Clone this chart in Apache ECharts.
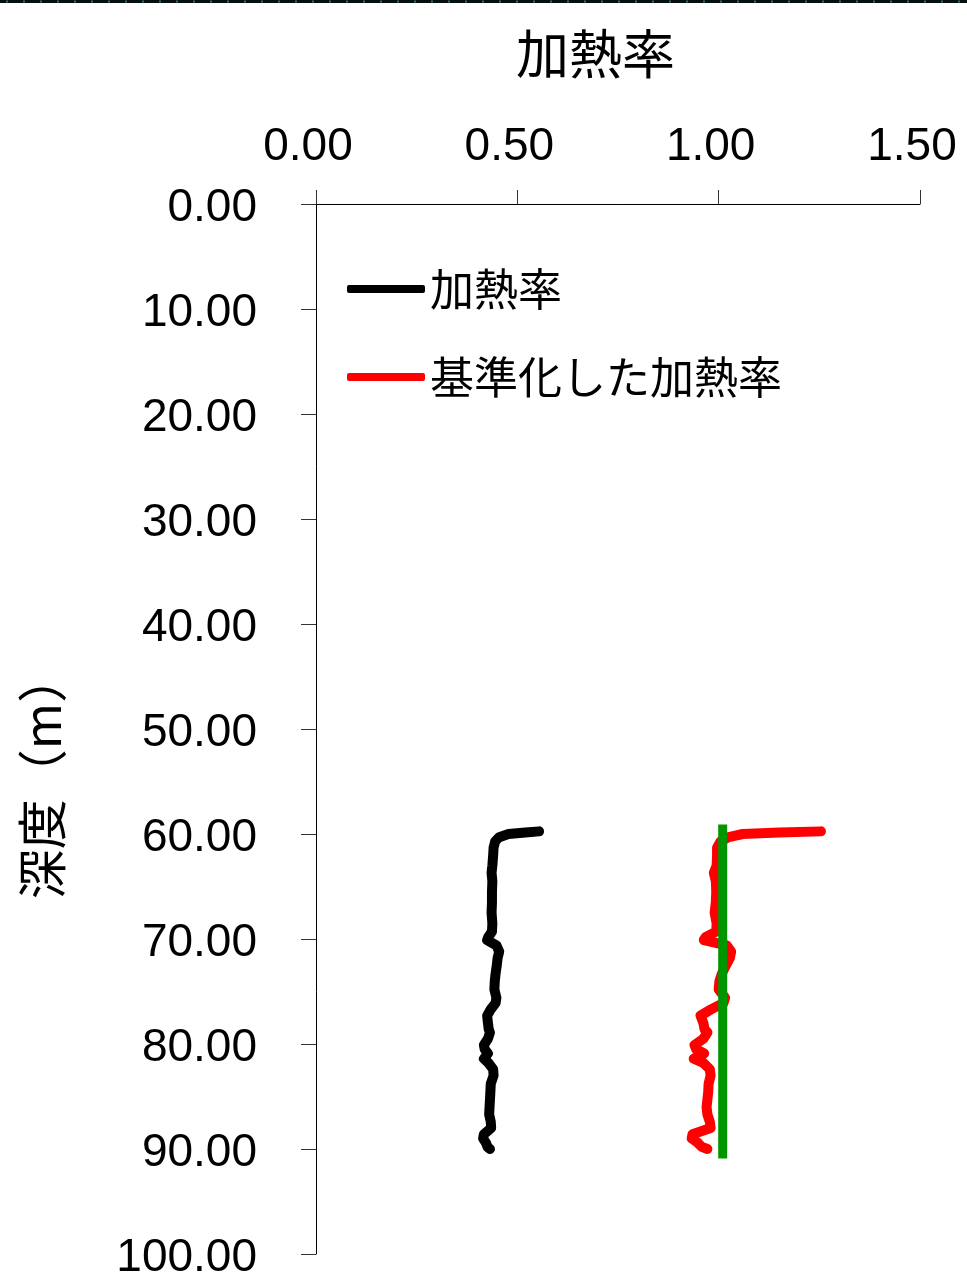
<!DOCTYPE html>
<html>
<head>
<meta charset="utf-8">
<script src="https://cdn.jsdelivr.net/npm/echarts@6/dist/echarts.min.js"></script>
<style>
  html, body { margin: 0; padding: 0; background: #ffffff; }
  #chart { width: 967px; height: 1279px; }
</style>
</head>
<body>
<div id="chart"></div>
<script>
// Borehole heating-rate profile: depth (m) against heating rate
const depth = [
  59.75, 59.85, 60.0, 60.3, 60.7, 61.3, 62.0, 63.0, 63.7, 64.5,
  65.5, 66.5, 67.5, 68.5, 69.3, 69.8, 70.1, 70.6, 71.2, 71.8,
  72.5, 73.3, 74.0, 74.8, 75.6, 76.1, 76.7, 77.3, 78.0, 78.6,
  78.9, 79.5, 80.1, 80.5, 80.9, 81.4, 81.8, 82.4, 83.0, 83.8,
  84.6, 85.3, 86.0, 86.7, 87.4, 88.0, 88.6, 89.0, 89.4, 89.8,
  90.0
];

// 加熱率
const heatRate = [
  0.554, 0.520, 0.478, 0.455, 0.445, 0.441, 0.440, 0.438, 0.436, 0.438,
  0.437, 0.437, 0.436, 0.438, 0.437, 0.428, 0.425, 0.448, 0.455, 0.451,
  0.449, 0.446, 0.444, 0.443, 0.448, 0.446, 0.434, 0.425, 0.427, 0.429,
  0.432, 0.427, 0.417, 0.419, 0.427, 0.417, 0.428, 0.440, 0.441, 0.434,
  0.433, 0.432, 0.431, 0.430, 0.434, 0.435, 0.417, 0.415, 0.422, 0.426,
  0.432
];

// 基準化した加熱率
const normalizedRate = [
  1.254, 1.150, 1.060, 1.025, 1.005, 0.996, 0.996, 0.995, 0.988, 0.993,
  0.994, 0.993, 0.990, 0.995, 0.994, 0.968, 0.963, 1.020, 1.031, 1.028,
  1.018, 1.008, 1.002, 1.000, 1.016, 1.012, 0.981, 0.955, 0.962, 0.965,
  0.972, 0.962, 0.940, 0.944, 0.964, 0.938, 0.962, 0.978, 0.980, 0.975,
  0.974, 0.972, 0.970, 0.972, 0.978, 0.980, 0.935, 0.933, 0.948, 0.958,
  0.972
];

// Vertical reference line
const referenceRate = [1.01, 1.01];
const referenceDepth = [59.1, 90.9];

const seriesNames = ['加熱率', '基準化した加熱率'];
const xTitle = '加熱率';
const yTitle = '深度（m）';

const numFont = 'Liberation Sans, Arial, sans-serif';
const cjkFont = 'Noto Sans CJK JP, sans-serif';

const pairs = (xs, ys) => xs.map((x, i) => [x, ys[i]]);

const chart = echarts.init(document.getElementById('chart'), null, { renderer: 'canvas' });

chart.setOption({
  animation: false,
  backgroundColor: '#ffffff',
  grid: {
    left: 316, right: 47, top: 204, bottom: 25,
    containLabel: false,
    outerBoundsMode: 'none'
  },
  legend: {
    data: seriesNames,
    orient: 'vertical',
    left: 347,
    top: 264,
    padding: 0,
    itemWidth: 78,
    itemHeight: 8,
    itemGap: 38,
    icon: 'roundRect',
    textStyle: { fontFamily: cjkFont, fontSize: 44, color: '#000', lineHeight: 50 }
  },
  graphic: [
    { type: 'rect', left: 0, top: 0, shape: { width: 967, height: 3 }, style: { fill: '#050f0f' }, silent: true },
    { type: 'line', shape: { x1: 6, y1: 1.5, x2: 967, y2: 1.5 }, style: { stroke: '#2f6f6f', lineWidth: 2, lineDash: [2, 15] }, silent: true },
    {
      type: 'text', x: 516, y: 27,
      style: { text: xTitle, font: '53px ' + cjkFont, fill: '#000', textAlign: 'left', textVerticalAlign: 'top' }
    },
    {
      type: 'text', x: 42, y: 776, rotation: Math.PI / 2,
      style: { text: yTitle, font: '50px ' + cjkFont, fill: '#000', textAlign: 'center', textVerticalAlign: 'middle' }
    }
  ],
  xAxis: {
    type: 'value',
    position: 'top',
    min: 0, max: 1.5, interval: 0.5,
    axisLine: { show: true, onZero: false, lineStyle: { color: '#000', width: 1 } },
    axisTick: { show: true, inside: false, length: 14, lineStyle: { color: '#333', width: 1 } },
    splitLine: { show: false },
    axisLabel: {
      formatter: v => v.toFixed(2),
      fontFamily: numFont, fontSize: 46, color: '#000',
      margin: 34, padding: [0, 16, 0, 0]
    }
  },
  yAxis: {
    type: 'value',
    inverse: true,
    min: 0, max: 100, interval: 10,
    axisLine: { show: true, onZero: false, lineStyle: { color: '#000', width: 1 } },
    axisTick: { show: true, inside: false, length: 15, lineStyle: { color: '#333', width: 1 } },
    splitLine: { show: false },
    axisLabel: {
      formatter: v => '{d|' + v.toFixed(2) + '}',
      margin: 59,
      rich: {
        d: { fontFamily: numFont, fontSize: 46, color: '#000', padding: [9, 0, 0, 0] }
      }
    }
  },
  series: [
    {
      name: seriesNames[0],
      type: 'line',
      data: pairs(heatRate, depth),
      symbol: 'none',
      smooth: false,
      color: '#000000',
      lineStyle: { color: '#000000', width: 10, cap: 'round', join: 'round' },
      z: 3
    },
    {
      name: seriesNames[1],
      type: 'line',
      data: pairs(normalizedRate, depth),
      symbol: 'none',
      smooth: false,
      color: '#ff0000',
      lineStyle: { color: '#ff0000', width: 10, cap: 'round', join: 'round' },
      z: 3
    },
    {
      name: 'reference',
      type: 'line',
      data: pairs(referenceRate, referenceDepth),
      symbol: 'none',
      color: '#009600',
      lineStyle: { color: '#009600', width: 9, cap: 'butt' },
      z: 4
    }
  ]
});
</script>
</body>
</html>
